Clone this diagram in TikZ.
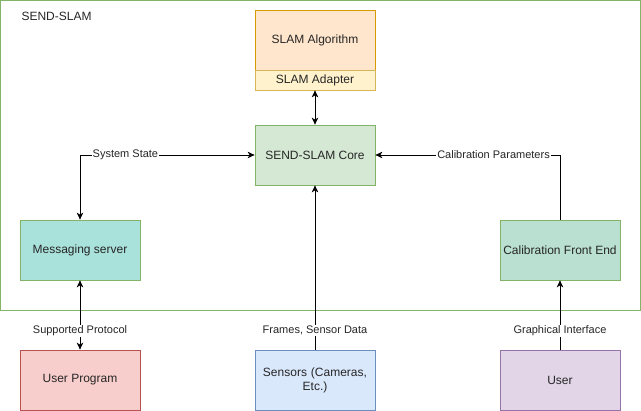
\documentclass[tikz,border=0pt]{standalone}
\usepackage{fontspec}
\setmainfont{Liberation Sans}
\usetikzlibrary{arrows.meta}

\definecolor{SSgreenS}{HTML}{82B366}
\definecolor{SSgreenF}{HTML}{D5E8D4}
\definecolor{SSorangeF}{HTML}{FFE6CC}
\definecolor{SSorangeS}{HTML}{D79B00}
\definecolor{SSyellowF}{HTML}{FFF2CC}
\definecolor{SSyellowS}{HTML}{D6B656}
\definecolor{SStealF}{HTML}{A9E1DB}
\definecolor{SSmintF}{HTML}{B9E0D1}
\definecolor{SSredF}{HTML}{F8CECC}
\definecolor{SSredS}{HTML}{B85450}
\definecolor{SSblueF}{HTML}{DAE8FC}
\definecolor{SSblueS}{HTML}{6C8EBF}
\definecolor{SSpurpleF}{HTML}{E1D5E7}
\definecolor{SSpurpleS}{HTML}{9673A6}

\tikzset{SSbox/.style={draw,line width=0.75pt,minimum width=120pt,minimum height=60pt,inner sep=0pt,
           align=center,font=\fontsize{12}{14}\selectfont,text=black!85},
         SSlab/.style={fill=white,inner sep=1pt,font=\fontsize{11}{13}\selectfont,text=black!85},
         SSarr/.style={line width=0.9pt,-{Stealth[length=7pt,width=6.5pt,inset=2pt]}},
         SSdbl/.style={line width=0.9pt,{Stealth[length=7pt,width=6.5pt,inset=2pt]}-{Stealth[length=7pt,width=6.5pt,inset=2pt]}}}

\begin{document}
\begin{tikzpicture}[x=1pt,y=-1pt]
    \useasboundingbox (0,0) rectangle (641,411);
    % container
    \draw[SSgreenS,line width=0.9pt] (0.5,0.5) rectangle (640.5,310) ;
    \node[anchor=west,font=\fontsize{12}{14}\selectfont,text=black!85] (title) at (18,16) {SEND-SLAM};
    % boxes
    \node[SSbox,fill=SSorangeF,draw=SSorangeS] (algo) at (315,40) {SLAM Algorithm};
    \node[SSbox,fill=SSyellowF,draw=SSyellowS,minimum height=20pt] (adapt) at (315,80) {SLAM Adapter};
    \node[SSbox,fill=SSgreenF,draw=SSgreenS] (core) at (315,155) {SEND-SLAM Core};
    \node[SSbox,fill=SStealF,draw=SSgreenS] (msg) at (80,250) {Messaging server};
    \node[SSbox,fill=SSmintF,draw=SSgreenS] (calib) at (560,250) {Calibration Front End};
    \node[SSbox,fill=SSredF,draw=SSredS] (prog) at (80,380) {User Program};
    \node[SSbox,fill=SSblueF,draw=SSblueS,text width=112pt] (sens) at (315,380) {Sensors (Cameras,\\ Etc.)};
    \node[SSbox,fill=SSpurpleF,draw=SSpurpleS] (user) at (560,380) {User};
    % connectors
    \draw[SSdbl] (adapt) -- (core);
    \draw[SSdbl] (msg.north) |- (core.west) node[SSlab,pos=0.63] {System State};
    \draw[SSarr] (calib.north) |- (core.east) node[SSlab,pos=0.68] {Calibration Parameters};
    \draw[SSarr] (sens) -- (core) node[SSlab,pos=0.115] {Frames, Sensor Data};
    \draw[SSdbl] (prog) -- (msg) node[SSlab,pos=0.27] {Supported Protocol};
    \draw[SSarr] (user) -- (calib) node[SSlab,pos=0.27] {Graphical Interface};
  \end{tikzpicture}
\end{document}
